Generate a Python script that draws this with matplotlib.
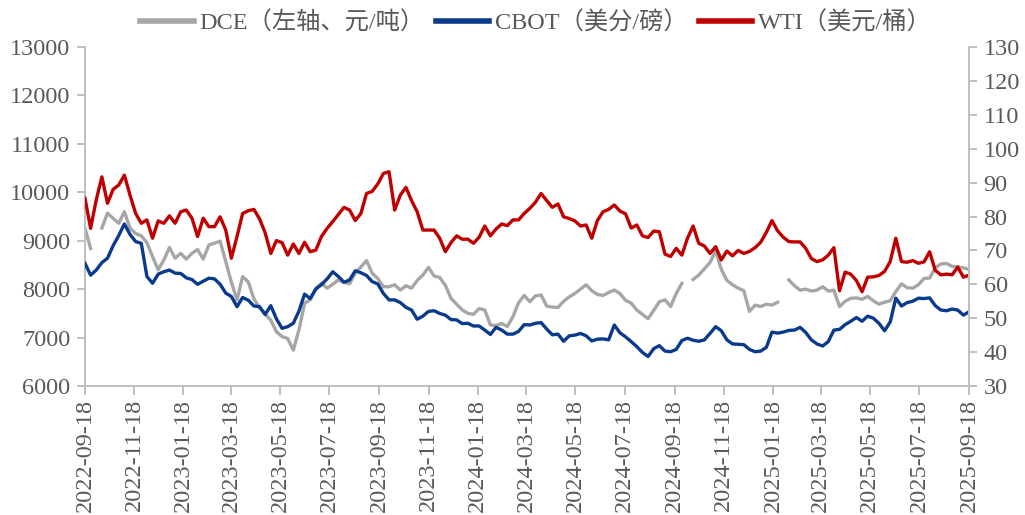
import matplotlib
matplotlib.use("Agg")
import matplotlib.pyplot as plt
import matplotlib.dates as mdates
import numpy as np
import pandas as pd

nan = np.nan

# ---- data (weekly readings, 2022-09-18 .. 2025-09-18) ----
start_date = "2022-09-18"
end_date = "2025-09-18"
n_points = 158

dce = [9260, 8840, nan, 9260, 9570, 9460, 9360, 9600, 9260, 9150,
       9100, 8960, 8670, 8400, 8600, 8860, 8640, 8740, 8620, 8740,
       8820, 8620, 8910, 8950, 8990, 8570, 8140, 7780, 8260, 8150,
       7800, 7620, 7480, 7360, 7120, 7020, 6980, 6740, 7160, 7710,
       7780, 8020, 8120, 8020, 8100, 8190, 8140, 8110, 8330, 8460,
       8590, 8330, 8220, 8050, 8050, 8090, 7980, 8070, 8020, 8180,
       8290, 8450, 8270, 8240, 8080, 7810, 7690, 7570, 7500, 7480,
       7600, 7570, 7260, 7250, 7290, 7230, 7430, 7720, 7870, 7740,
       7860, 7880, 7650, 7630, 7620, 7750, 7840, 7910, 8000, 8090,
       7970, 7890, 7870, 7930, 7980, 7910, 7770, 7710, 7570, 7480,
       7390, 7560, 7740, 7780, 7640, 7910, 8120, nan, 8200, 8290,
       8420, 8550, 8790, 8410, 8180, 8090, 8020, 7970, 7540, 7670,
       7640, 7690, 7670, 7730, nan, 8190, 8070, 7980, 8000, 7960,
       7980, 8050, 7960, 7980, 7640, 7750, 7810, 7820, 7790, 7850,
       7760, 7690, 7730, 7760, 7950, 8110, 8030, 8020, 8090, 8220,
       8230, 8440, 8520, 8530, 8470, 8460, 8440, 8410]

cbot = [66.2, 62.7, 64.2, 66.4, 67.7, 71.4, 74.4, 77.8, 74.7, 72.6,
        72.1, 62.3, 60.3, 63.0, 63.7, 64.2, 63.3, 63.2, 61.9, 61.4,
        60.0, 60.9, 61.8, 61.6, 60.0, 57.4, 56.4, 53.4, 56.1, 55.3,
        53.6, 53.4, 51.1, 53.7, 49.8, 47.0, 47.5, 48.5, 52.1, 57.1,
        55.8, 58.6, 59.9, 61.6, 63.7, 62.3, 60.6, 61.3, 64.0, 63.4,
        62.6, 60.8, 60.1, 57.3, 55.4, 55.4, 54.6, 53.2, 52.4, 49.7,
        50.6, 52.0, 52.2, 51.4, 50.9, 49.6, 49.5, 48.4, 48.5, 47.7,
        47.7, 46.5, 45.2, 47.3, 46.5, 45.3, 45.3, 46.1, 48.1, 48.0,
        48.5, 48.7, 46.8, 45.1, 45.3, 43.2, 44.8, 45.0, 45.5, 44.8,
        43.3, 43.8, 43.9, 43.6, 48.0, 45.7, 44.5, 43.1, 41.6, 39.9,
        38.7, 41.0, 41.9, 40.3, 40.1, 40.8, 43.4, 44.1, 43.5, 43.2,
        43.6, 45.5, 47.5, 46.3, 43.6, 42.4, 42.3, 42.2, 40.8, 40.1,
        40.3, 41.4, 45.9, 45.6, 45.9, 46.4, 46.5, 47.3, 45.8, 43.6,
        42.4, 41.8, 43.1, 46.5, 46.7, 48.1, 49.1, 50.2, 49.1, 50.6,
        50.0, 48.5, 46.3, 48.9, 55.9, 53.6, 54.6, 55.0, 55.9, 55.8,
        56.0, 53.7, 52.4, 52.2, 52.7, 52.4, 50.9, 51.9]

wti = [85.4, 76.5, 84.9, 91.7, 83.9, 88.0, 89.3, 92.2, 86.3, 80.9,
       78.0, 79.0, 73.6, 78.7, 78.0, 80.2, 78.0, 81.4, 81.9, 79.5,
       74.1, 79.5, 77.0, 77.0, 79.9, 76.0, 67.7, 74.1, 80.9, 81.7,
       82.1, 79.3, 75.2, 69.1, 72.9, 72.3, 68.6, 71.9, 69.1, 72.4,
       69.6, 70.1, 74.1, 76.5, 78.5, 80.6, 82.7, 81.9, 78.8, 80.9,
       86.8, 87.4, 89.6, 92.7, 93.2, 81.9, 86.3, 88.6, 84.7, 81.4,
       76.0, 76.0, 76.0, 73.6, 69.6, 72.3, 74.3, 73.3, 73.3, 72.1,
       73.9, 77.2, 74.3, 76.3, 77.8, 77.3, 79.0, 79.0, 80.9, 82.4,
       84.2, 86.8, 84.7, 82.7, 83.7, 79.9, 79.4, 78.7, 77.2, 77.5,
       73.6, 78.8, 81.4, 82.1, 83.4, 81.6, 80.8, 76.6, 77.5, 74.3,
       73.8, 75.7, 75.5, 68.9, 68.2, 70.6, 68.6, 73.6, 77.2, 72.1,
       71.3, 69.1, 71.1, 67.2, 69.8, 68.4, 70.0, 69.1, 69.7, 70.8,
       72.4, 75.3, 78.8, 75.8, 73.9, 72.6, 72.5, 72.5, 70.6, 67.6,
       66.7, 67.2, 68.6, 70.8, 58.1, 63.6, 63.0, 61.1, 57.8, 62.1,
       62.2, 62.6, 63.8, 66.7, 73.6, 66.7, 66.5, 67.0, 66.2, 66.6,
       69.6, 64.1, 62.8, 63.0, 62.8, 65.1, 62.1, 62.7]

labels = ["DCE（左轴、元/吨）", "CBOT（美分/磅）", "WTI（美元/桶）"]
colors = ["#A6A6A6", "#0A3A8C", "#C00000"]

left_ticks = list(range(6000, 13001, 1000))
right_ticks = list(range(30, 131, 10))

dates = pd.date_range(start_date, end_date, periods=n_points)
tick_dates = pd.date_range(start_date, end_date, freq=pd.DateOffset(months=2))

# ---- style ----
plt.rcParams["font.family"] = ["Liberation Serif", "Noto Sans CJK SC"]
text_color = "#595959"
spine_color = "#BFBFBF"
fs = 17.5

fig = plt.figure(figsize=(10.25, 5.15), dpi=100)
ax = fig.add_axes([0.0829, 0.2505, 0.8625, 0.6582])
ax2 = ax.twinx()

l1, = ax.plot(dates, dce, color=colors[0], lw=2.4, label=labels[0])
l2, = ax2.plot(dates, cbot, color=colors[1], lw=2.4, label=labels[1])
l3, = ax2.plot(dates, wti, color=colors[2], lw=2.4, label=labels[2])

ax.set_xlim(pd.Timestamp(start_date), pd.Timestamp(end_date))
ax.set_ylim(left_ticks[0], left_ticks[-1])
ax2.set_ylim(right_ticks[0], right_ticks[-1])
ax.set_yticks(left_ticks)
ax2.set_yticks(right_ticks)
ax.set_xticks(tick_dates)
ax.xaxis.set_major_formatter(mdates.DateFormatter("%Y-%m-%d"))

for a in (ax, ax2):
    a.spines["top"].set_visible(False)
    for s in ("left", "right", "bottom"):
        a.spines[s].set_color(spine_color)
        a.spines[s].set_linewidth(1.4)
    a.tick_params(axis="y", colors=spine_color, labelcolor=text_color,
                  labelsize=fs, length=5.5, width=1.4, direction="out", pad=5)
    a.tick_params(axis="x", colors=spine_color, labelcolor=text_color,
                  labelsize=fs, length=6.5, width=1.4, direction="out", pad=3)
ax.spines["right"].set_visible(False)
ax2.spines["left"].set_visible(False)
ax2.spines["bottom"].set_visible(False)
for lab in ax.get_xticklabels():
    lab.set_rotation(90)

fig.legend(handles=[l1, l2, l3], labels=labels, loc="center",
           bbox_to_anchor=(0.523, 0.955), ncol=3, frameon=False,
           fontsize=fs, handlelength=2.2, handletextpad=0.25,
           columnspacing=0.45, labelcolor=text_color)
for line in fig.legends[0].get_lines():
    line.set_linewidth(4)

fig.savefig("out.png", dpi=100)
